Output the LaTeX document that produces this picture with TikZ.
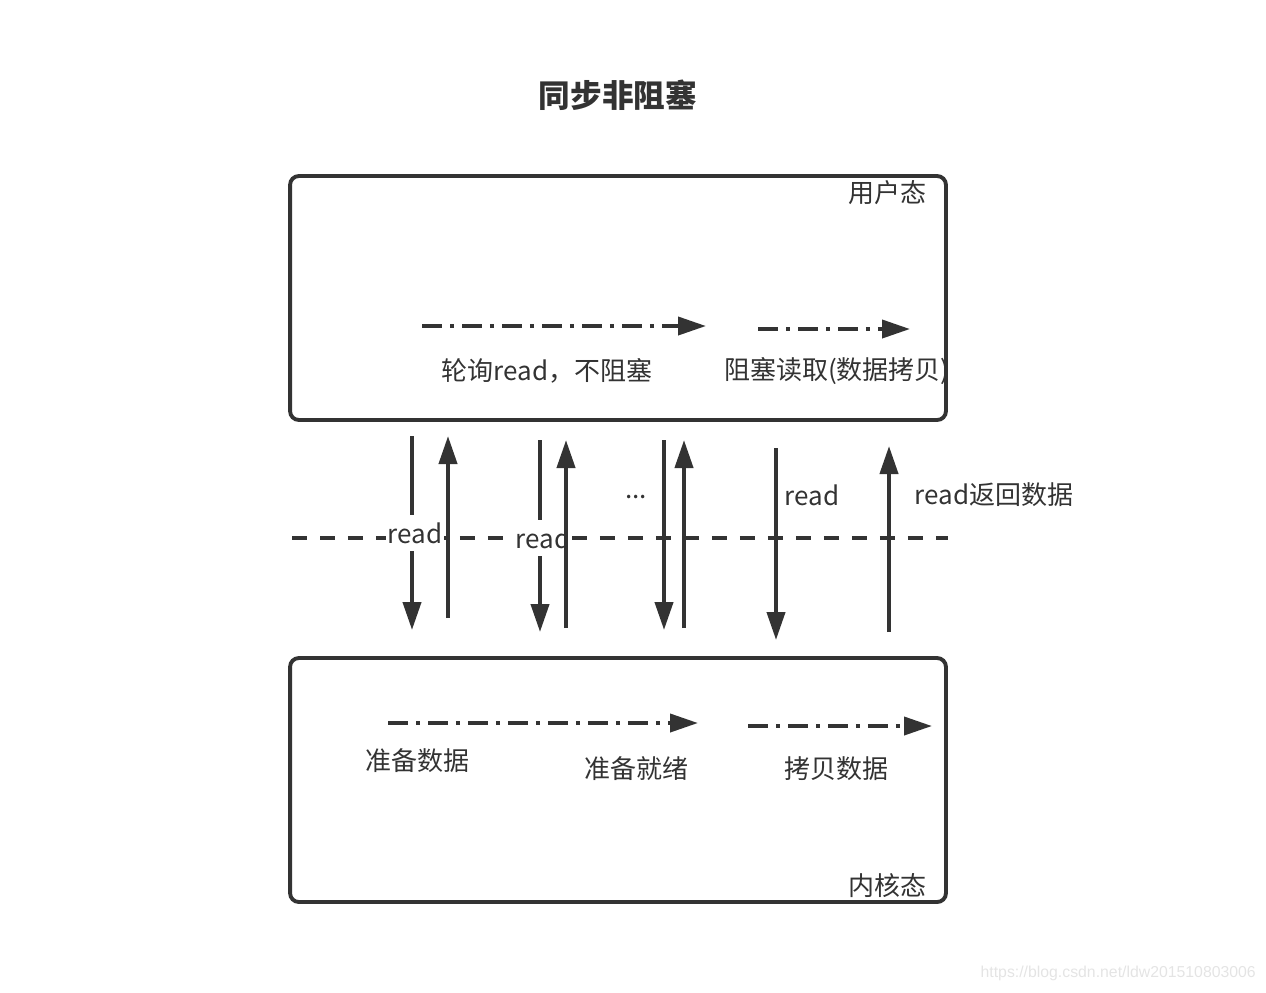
\documentclass[tikz,border=0pt]{standalone}
\usepackage{fontspec}
\setmainfont{Noto Sans CJK SC}
\newfontfamily\wmfont{Liberation Sans}
\usetikzlibrary{arrows.meta}
\definecolor{ink}{HTML}{333333}
\definecolor{wm}{HTML}{E4E4E4}
\tikzset{
  statebox/.style={draw=ink, line width=2.2pt, rounded corners=5pt, minimum width=13.12cm, minimum height=4.88cm, inner sep=0pt, outer sep=0pt},
  flowarrow/.style={draw=ink, line width=2.2pt, dash pattern=on 0.4cm off 0.16cm on 0.08cm off 0.16cm, -{Triangle[length=0.56cm,width=0.36cm]}},
  callarrow/.style={draw=ink, line width=2.3pt, -{Triangle[length=0.56cm,width=0.36cm]}},
  lbl/.style={text=ink, font=\fontsize{14.8pt}{17pt}\selectfont, inner sep=1pt},
  cutlbl/.style={lbl, fill=white, inner xsep=1pt, inner ysep=4pt}
}
\begin{document}
\begin{tikzpicture}[x=0.02cm,y=-0.02cm]
\useasboundingbox (0,0) rectangle (1266,992);
% title
\node[text=ink, font=\fontsize{18pt}{21pt}\selectfont\bfseries] (title) at (618,95) {同步非阻塞};
% boxes
\node[statebox] (user) at (618,298) {};
\node[statebox] (kernel) at (618,780) {};
\node[lbl, anchor=east] (userlbl) at (929,193) {用户态};
\node[lbl, anchor=east] (kernlbl) at (929,886) {内核态};
% boundary dashed line
\coordinate (bl) at (292,538);
\coordinate (br) at (948,538);
\draw[draw=ink, line width=2.2pt, dash pattern=on 0.3cm off 0.26cm] (bl) -- (br);
% user-space flow arrows
\coordinate (u1s) at (422,326); \coordinate (u1e) at (706,326);
\coordinate (u2s) at (758,329); \coordinate (u2e) at (910,329);
\draw[flowarrow] (u1s) -- (u1e);
\draw[flowarrow] (u2s) -- (u2e);
\node[lbl] (poll) at (547,371) {轮询read，不阻塞};
\begin{scope}
\clip (290,176) rectangle (945,420);
\node[lbl, anchor=west] (blockread) at (722,371) {阻塞读取(数据拷贝)};
\end{scope}
% kernel flow arrows
\coordinate (k1s) at (388,723); \coordinate (k1e) at (698,723);
\coordinate (k2s) at (748,726); \coordinate (k2e) at (932,726);
\draw[flowarrow] (k1s) -- (k1e);
\draw[flowarrow] (k2s) -- (k2e);
\node[lbl] (prep) at (417,761) {准备数据};
\node[lbl] (ready) at (636,769) {准备就绪};
\node[lbl] (copy) at (836,769) {拷贝数据};
% vertical call arrows (down)
\coordinate (d1s) at (412,436); \coordinate (d1e) at (412,630);
\coordinate (d2s) at (540,440); \coordinate (d2e) at (540,632);
\coordinate (d3s) at (664,440); \coordinate (d3e) at (664,630);
\coordinate (d4s) at (776,448); \coordinate (d4e) at (776,640);
\draw[callarrow] (d1s) -- (d1e);
\draw[callarrow] (d2s) -- (d2e);
\draw[callarrow] (d3s) -- (d3e);
\draw[callarrow] (d4s) -- (d4e);
\node[cutlbl] (r1) at (415,533) {read};
\node[cutlbl] (r2) at (543,538) {read};
\node[lbl] (r4) at (812,495) {read};
\node[lbl] (dots) at (636,497) {...};
% vertical return arrows (up)
\coordinate (a1s) at (448,618); \coordinate (a1e) at (448,436);
\coordinate (a2s) at (566,628); \coordinate (a2e) at (566,440);
\coordinate (a3s) at (684,628); \coordinate (a3e) at (684,440);
\coordinate (a4s) at (889,632); \coordinate (a4e) at (889,446);
\draw[callarrow] (a1s) -- (a1e);
\draw[callarrow] (a2s) -- (a2e);
\draw[callarrow] (a3s) -- (a3e);
\draw[callarrow] (a4s) -- (a4e);
\node[lbl] (ret) at (994,495) {read返回数据};
% watermark
\node[text=wm, font=\wmfont\fontsize{9pt}{10pt}\selectfont, anchor=east] (wmark) at (1262,973) {https://blog.csdn.net/ldw201510803006};
\end{tikzpicture}
\end{document}
